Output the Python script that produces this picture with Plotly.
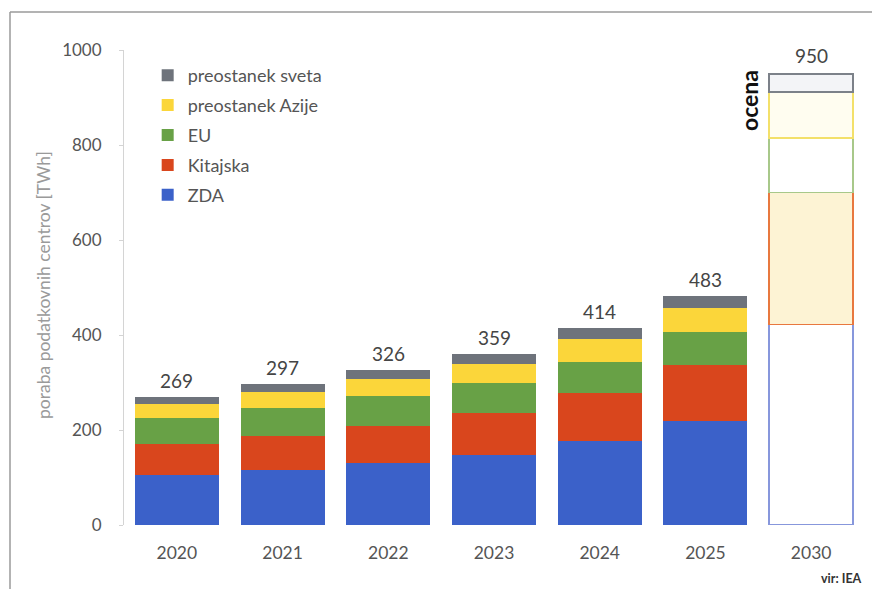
import plotly.graph_objects as go

years = ["2020", "2021", "2022", "2023", "2024", "2025", "2030"]
zda = [105, 115, 130, 148, 176, 218, 422]
kitajska = [65, 72, 78, 88, 102, 119, 278]
eu = [55, 60, 63, 62, 66, 70, 115]
azija = [30, 32, 36, 40, 48, 50, 97]
svet = [14, 18, 19, 21, 22, 26, 38]
totals = [269, 297, 326, 359, 414, 483, 950]

names = ["ZDA", "Kitajska", "EU", "preostanek Azije", "preostanek sveta"]
series = [zda, kitajska, eu, azija, svet]
solid = ["#3b61c9", "#d9461d", "#68a146", "#fbd63a", "#6e737b"]
fill_2030 = ["#ffffff", "#fdf3d4", "#ffffff", "#fffdf0", "#f3f4f7"]
line_2030 = ["#8797dc", "#e8783f", "#a8c88a", "#f3e06a", "#7c8189"]

FONT = "Lato"
fig = go.Figure()
n = len(years)
for i, (name, vals, c, f, lc) in enumerate(zip(names, series, solid, fill_2030, line_2030)):
    fig.add_trace(go.Bar(
        x=years, y=vals, name=name, legendgroup=name, legendrank=1000 - i,
        marker=dict(
            color=[c] * (n - 1) + [f],
            line=dict(color=[c] * (n - 1) + [lc], width=[0] * (n - 1) + [1.8]),
        ),
        hoverinfo="x+y+name",
    ))

for idx, (yr, t) in enumerate(zip(years, totals)):
    fig.add_annotation(x=idx, y=t, text=str(t), showarrow=False, yanchor="bottom",
                       xanchor="center", yshift=3 if yr != "2030" else 5,
                       font=dict(family=FONT, size=19, color="#454545"))

# y axis title
fig.add_annotation(xref="paper", yref="paper", x=(43 - 124) / 740, y=(525 - 285) / 475,
                   xanchor="center", yanchor="middle",
                   text="poraba podatkovnih centrov [TWh]", textangle=-90, showarrow=False,
                   font=dict(family=FONT, size=17.5, color="#9a9a9a"))
# ocena
fig.add_annotation(xref="paper", yref="paper", x=(749 - 124) / 740, y=(525 - 101) / 475,
                   xanchor="center", yanchor="middle",
                   text="<b>ocena</b>", textangle=-90, showarrow=False,
                   font=dict(family=FONT, size=23, color="#111111"))
# source
fig.add_annotation(xref="paper", yref="paper", x=(841 - 124) / 740, y=(525 - 578) / 475,
                   xanchor="center", yanchor="middle",
                   text="<b>vir: IEA</b>", showarrow=False,
                   font=dict(family=FONT, size=12.5, color="#333333"))

# frame lines (top and left)
fig.add_shape(type="line", xref="paper", yref="paper",
              x0=(10 - 124) / 740, x1=(880 - 124) / 740, y0=1 + 38 / 475, y1=1 + 38 / 475,
              line=dict(color="#9a9a9a", width=1.5))
fig.add_shape(type="line", xref="paper", yref="paper",
              x0=(10 - 124) / 740, x1=(10 - 124) / 740, y0=1 + 38 / 475, y1=-(600 - 525) / 475,
              line=dict(color="#9a9a9a", width=1.5))

fig.update_layout(
    width=872, height=589,
    margin=dict(l=124, r=8, t=50, b=64, autoexpand=False),
    paper_bgcolor="white", plot_bgcolor="white",
    barmode="stack", bargap=0.205,
    font=dict(family=FONT, color="#555555"),
    showlegend=True,
    legend=dict(x=0.032, y=(525 - 57) / 475, xanchor="left", yanchor="top",
                traceorder="grouped", tracegroupgap=3.5, itemwidth=30,
                font=dict(family=FONT, size=18, color="#555555"),
                bgcolor="rgba(0,0,0,0)", itemclick=False),
    xaxis=dict(type="category", range=[-0.5, len(years) - 0.5], showline=False, ticks="",
               showgrid=False, ticklabelstandoff=15,
               tickfont=dict(family=FONT, size=17.5, color="#555555")),
    yaxis=dict(range=[0, 1000], tickvals=[0, 200, 400, 600, 800, 1000],
               showgrid=False, zeroline=False, showline=True, linecolor="#d4d4d4", linewidth=1,
               ticks="outside", ticklen=4, tickcolor="#d4d4d4", ticklabelstandoff=14,
               tickfont=dict(family=FONT, size=17, color="#555555")),
)

fig.write_html("out.html")
